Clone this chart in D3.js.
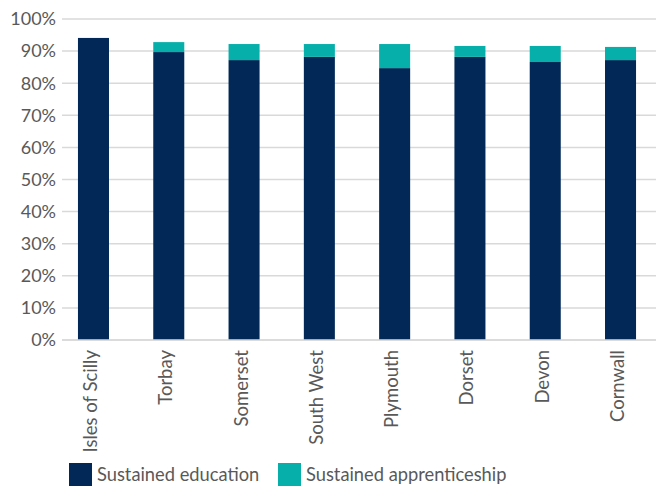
<!DOCTYPE html>
<html><head><meta charset="utf-8">
<script src="https://cdn.jsdelivr.net/npm/d3@7"></script>
<style>body{margin:0;background:#fff}svg{display:block}text{font-family:Lato,"Noto Sans",sans-serif;fill:#595959}</style>
</head><body><svg id="c" width="656" height="488"></svg>
<script>
const categories = ["Isles of Scilly","Torbay","Somerset","South West","Plymouth","Dorset","Devon","Cornwall"];
const education = [94.1, 89.7, 87.2, 88.2, 84.7, 88.2, 86.6, 87.2];
const apprenticeship = [0, 3.1, 5.0, 4.0, 7.5, 3.4, 5.0, 4.1];
const yTicks = [0,10,20,30,40,50,60,70,80,90,100];
const seriesNames = ["Sustained education","Sustained apprenticeship"];
const colors = ["#012856","#06AFAA"];

const svg = d3.select("#c");
const y = d3.scaleLinear().domain([0,100]).range([340,19]);
const x = d3.scaleBand().domain(categories).range([62,652]).paddingInner(0.588).paddingOuter(0.212);

svg.append("g").selectAll("line").data(yTicks).join("line")
  .attr("x1",62).attr("x2",656).attr("y1",d=>y(d)).attr("y2",d=>y(d))
  .attr("stroke","#d9d9d9").attr("stroke-width",1.5);

svg.append("g").selectAll("text").data(yTicks).join("text")
  .attr("x",56).attr("y",d=>y(d)).attr("dy","0.35em").attr("text-anchor","end")
  .attr("font-size",18).text(d=>d+"%");

const stacked = categories.map((c,i)=>({c, e:education[i], a:apprenticeship[i]}));
const g = svg.append("g");
g.selectAll("rect.e").data(stacked).join("rect").attr("class","e")
  .attr("x",d=>x(d.c)).attr("width",x.bandwidth())
  .attr("y",d=>y(d.e)).attr("height",d=>y(0)-y(d.e)).attr("fill",colors[0]);
g.selectAll("rect.a").data(stacked.filter(d=>d.a>0)).join("rect").attr("class","a")
  .attr("x",d=>x(d.c)).attr("width",x.bandwidth())
  .attr("y",d=>y(d.e+d.a)).attr("height",d=>y(d.e)-y(d.e+d.a)).attr("fill",colors[1]);

svg.append("line").attr("x1",62).attr("x2",656).attr("y1",y(0)).attr("y2",y(0))
  .attr("stroke","#d9d9d9").attr("stroke-width",1.5);

svg.append("g").selectAll("text").data(categories).join("text")
  .attr("transform",d=>`translate(${x(d)+x.bandwidth()/2-3},350) rotate(-90)`)
  .attr("dy","0.35em").attr("text-anchor","end").attr("font-size",18.5).text(d=>d);

const leg = svg.append("g");
const lx = [69, 278];
seriesNames.forEach((n,i)=>{
  leg.append("rect").attr("x",lx[i]).attr("y",463).attr("width",23).attr("height",23).attr("fill",colors[i]);
  leg.append("text").attr("x",lx[i]+28).attr("y",475).attr("dy","0.35em").attr("font-size",18.3).text(n);
});
</script></body></html>
